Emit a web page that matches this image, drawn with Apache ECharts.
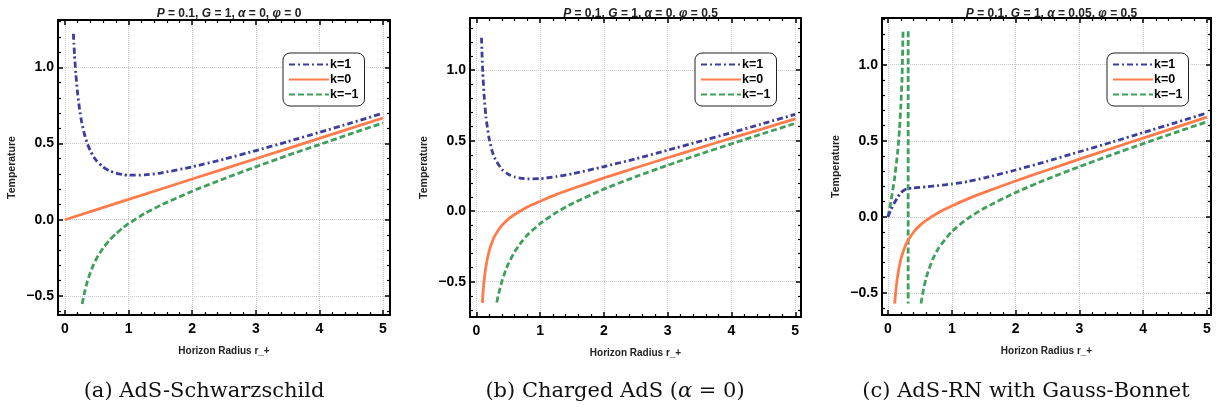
<!DOCTYPE html>
<html>
<head>
<meta charset="utf-8">
<script src="https://cdn.jsdelivr.net/npm/echarts@6/dist/echarts.min.js"></script>
<style>
html, body { margin: 0; background: #fff; }
#chart { width: 1224px; height: 412px; }
</style>
</head>
<body>
<div id="chart"></div>
<script>
// tick labels
const xMajor = [0, 1, 2, 3, 4, 5];
const yMajor = [-0.5, 0, 0.5, 1.0];
const legendNames = ['k=1', 'k=0', 'k=\u22121'];

// (a) AdS-Schwarzschild
const aR1 = [0.132, 0.14, 0.15, 0.17, 0.2, 0.23, 0.26, 0.3, 0.35, 0.4, 0.45, 0.5, 0.6, 0.7, 0.8, 0.9, 1, 1.25, 1.5, 2, 2.5, 3, 3.5, 4, 4.5, 5];
const aT1 = [1.22, 1.155, 1.08, 0.958, 0.822, 0.722, 0.646, 0.57, 0.501, 0.451, 0.413, 0.385, 0.345, 0.32, 0.306, 0.297, 0.292, 0.294, 0.306, 0.347, 0.397, 0.453, 0.512, 0.573, 0.635, 0.699];
const aR0 = [0, 1, 2, 3, 4, 5];
const aT0 = [0, 0.133, 0.267, 0.4, 0.533, 0.667];
const aRm = [0.27, 0.3, 0.35, 0.4, 0.45, 0.5, 0.6, 0.7, 0.8, 0.9, 1, 1.25, 1.5, 2, 2.5, 3, 3.5, 4, 4.5, 5];
const aTm = [-0.553, -0.49, -0.407, -0.345, -0.293, -0.251, -0.185, -0.134, -0.092, -0.057, -0.026, 0.04, 0.094, 0.187, 0.269, 0.347, 0.422, 0.493, 0.565, 0.635];

// (b) Charged AdS
const bR1 = [0.08, 0.09, 0.1, 0.12, 0.15, 0.2, 0.25, 0.3, 0.4, 0.5, 0.6, 0.8, 1, 1.25, 1.5, 2, 2.5, 3, 3.5, 4, 4.5, 5];
const bT1 = [1.23, 1.095, 0.988, 0.829, 0.67, 0.515, 0.423, 0.365, 0.297, 0.262, 0.243, 0.229, 0.231, 0.245, 0.265, 0.316, 0.372, 0.433, 0.495, 0.557, 0.622, 0.687];
const bR0 = [0.095, 0.1, 0.12, 0.15, 0.2, 0.25, 0.3, 0.4, 0.5, 0.6, 0.8, 1, 1.25, 1.5, 2, 2.5, 3, 3.5, 4, 4.5, 5];
const bT0 = [-0.65, -0.604, -0.498, -0.391, -0.282, -0.214, -0.166, -0.101, -0.056, -0.023, 0.03, 0.071, 0.118, 0.159, 0.236, 0.308, 0.379, 0.449, 0.518, 0.586, 0.655];
const bRm = [0.32, 0.35, 0.4, 0.45, 0.5, 0.6, 0.7, 0.8, 1, 1.25, 1.5, 2, 2.5, 3, 3.5, 4, 4.5, 5];
const bTm = [-0.647, -0.584, -0.499, -0.43, -0.374, -0.288, -0.222, -0.169, -0.088, -0.01, 0.053, 0.157, 0.245, 0.326, 0.404, 0.478, 0.551, 0.623];

// (c) AdS-RN with Gauss-Bonnet
const cR1 = [0, 0.02, 0.05, 0.1, 0.15, 0.2, 0.25, 0.3, 0.4, 0.5, 0.6, 0.8, 1, 1.25, 1.5, 2, 2.5, 3, 3.5, 4, 4.5, 5];
const cT1 = [0, 0.02, 0.05, 0.092, 0.128, 0.157, 0.175, 0.185, 0.19, 0.194, 0.198, 0.206, 0.216, 0.232, 0.255, 0.308, 0.366, 0.428, 0.49, 0.554, 0.618, 0.683];
const cR0 = [0.105, 0.12, 0.15, 0.2, 0.25, 0.3, 0.4, 0.5, 0.6, 0.8, 1, 1.25, 1.5, 2, 2.5, 3, 3.5, 4, 4.5, 5];
const cT0 = [-0.57, -0.498, -0.391, -0.282, -0.214, -0.166, -0.101, -0.056, -0.023, 0.03, 0.071, 0.118, 0.159, 0.236, 0.308, 0.379, 0.449, 0.518, 0.586, 0.655];
const cRm = [0, 0.05, 0.1, 0.15, 0.18, 0.2, 0.22, 0.236, null, 0.316, 0.316, null, 0.517, 0.55, 0.6, 0.7, 0.8, 1, 1.25, 1.5, 2, 2.5, 3, 3.5, 4, 4.5, 5];
const cTm = [0, 0.113, 0.244, 0.421, 0.576, 0.718, 0.913, 1.22, null, 1.22, -0.57, null, -0.57, -0.49, -0.398, -0.279, -0.201, -0.097, -0.011, 0.055, 0.16, 0.249, 0.33, 0.407, 0.481, 0.554, 0.625];

const panels = [
    { grid: { left: 58, top: 20, width: 332, height: 295 }, x: [-0.11, 5.11], y: [-0.625, 1.31],
      title: '{i|P} = 0.1, {i|G} = 1, {i|\u03b1} = 0, {i|\u03c6} = 0',
      caption: '(a) AdS-Schwarzschild', capX: 199, legX: 283,
      data: [[aR1, aT1], [aR0, aT0], [aRm, aTm]] },
    { grid: { left: 470, top: 18, width: 331, height: 299 }, x: [-0.1, 5.09], y: [-0.75, 1.37],
      title: '{i|P} = 0.1, {i|G} = 1, {i|\u03b1} = 0, {i|\u03c6} = 0.5',
      caption: '(b) Charged AdS ({a|\u03b1} = 0)', capX: 610, legX: 695,
      data: [[bR1, bT1], [bR0, bT0], [bRm, bTm]] },
    { grid: { left: 882, top: 18, width: 329, height: 297 }, x: [-0.094, 5.063], y: [-0.645, 1.307],
      title: '{i|P} = 0.1, {i|G} = 1, {i|\u03b1} = 0.05, {i|\u03c6} = 0.5',
      caption: '(c) AdS-RN with Gauss-Bonnet', capX: 1021, legX: 1107,
      data: [[cR1, cT1], [cR0, cT0], [cRm, cTm]] }
];

const colors = ['#3d3d9e', '#ff7b4a', '#3f9f5c'];
const dashes = [[6, 3, 2, 3], 'solid', [6, 3]];

function minorTicks(lo, hi, step, majors) {
    let out = [];
    for (let v = Math.ceil(lo / step) * step; v <= hi + 1e-9; v += step) {
        let r = Math.round(v * 100) / 100;
        if (!majors.some(m => Math.abs(m - r) < 1e-6)) out.push(r);
    }
    return out;
}

function fmtY(v) {
    return v.toFixed(1).replace('-', '\u2212');
}

let grid = [], xAxis = [], yAxis = [], series = [], legend = [], title = [];
const frame = { show: true, onZero: false, lineStyle: { color: '#000', width: 2 } };
const labelFont = { color: '#000', fontWeight: 'bold', fontSize: 14, fontFamily: 'Liberation Sans' };
const gridLine = { type: 'dotted', color: '#c9c9c9', width: 1 };

panels.forEach((p, i) => {
    grid.push(Object.assign({ outerBoundsMode: 'none', containLabel: false }, p.grid));
    const xMinor = minorTicks(p.x[0], p.x[1], 0.2, xMajor);
    const yMinor = minorTicks(p.y[0], p.y[1], 0.1, yMajor);
    ['bottom', 'top'].forEach(pos => {
        const main = pos === 'bottom';
        xAxis.push({
            type: 'value', gridIndex: i, position: pos, min: p.x[0], max: p.x[1],
            axisLine: frame,
            axisTick: { show: true, inside: true, length: 5, customValues: xMajor, lineStyle: { color: '#000', width: 1.5 } },
            axisLabel: { show: main, customValues: xMajor, margin: 7, ...labelFont },
            splitLine: { show: main, lineStyle: gridLine },
            name: main ? 'Horizon Radius r_+' : '', nameLocation: 'middle', nameGap: 31,
            nameTextStyle: { fontSize: 10, fontWeight: 'bold', color: '#222', fontFamily: 'Liberation Sans' }
        });
        xAxis.push({
            type: 'value', gridIndex: i, position: pos, min: p.x[0], max: p.x[1],
            axisLine: { show: false, onZero: false },
            axisTick: { show: true, inside: true, length: 3, customValues: xMinor, lineStyle: { color: '#000', width: 1.2 } },
            axisLabel: { show: false }, splitLine: { show: false }
        });
    });
    ['left', 'right'].forEach(pos => {
        const main = pos === 'left';
        yAxis.push({
            type: 'value', gridIndex: i, position: pos, min: p.y[0], max: p.y[1],
            axisLine: frame,
            axisTick: { show: true, inside: true, length: 5, customValues: yMajor, lineStyle: { color: '#000', width: 1.5 } },
            axisLabel: { show: main, customValues: yMajor, margin: 4, formatter: fmtY, ...labelFont },
            splitLine: { show: main, lineStyle: gridLine },
            name: main ? 'Temperature' : '', nameLocation: 'middle', nameGap: 40,
            nameTextStyle: { fontSize: 10.5, fontWeight: 'bold', color: '#222', fontFamily: 'Liberation Sans' }
        });
        yAxis.push({
            type: 'value', gridIndex: i, position: pos, min: p.y[0], max: p.y[1],
            axisLine: { show: false, onZero: false },
            axisTick: { show: true, inside: true, length: 3, customValues: yMinor, lineStyle: { color: '#000', width: 1.2 } },
            axisLabel: { show: false }, splitLine: { show: false }
        });
    });
    p.data.forEach((d, k) => {
        series.push({
            type: 'line', name: legendNames[k], xAxisIndex: 4 * i, yAxisIndex: 4 * i,
            data: d[0].map((r, j) => r === null ? ['-', '-'] : [r, d[1][j]]),
            symbol: 'none', showSymbol: false, smooth: 0.2, connectNulls: false, clip: true,
            lineStyle: { color: colors[k], width: 2.8, type: dashes[k] },
            itemStyle: { color: colors[k] },
            z: 3 + (2 - k)
        });
    });
    legend.push({
        data: legendNames, orient: 'vertical', left: p.legX, top: 53,
        itemWidth: 40, itemHeight: 12, itemGap: 2, padding: [5, 6, 5, 5],
        borderColor: '#222', borderWidth: 1, borderRadius: 7, backgroundColor: '#fff',
        selectedMode: false,
        itemStyle: { color: 'rgba(0,0,0,0)', borderColor: 'rgba(0,0,0,0)', borderWidth: 0, opacity: 0 },
        textStyle: { color: '#000', fontWeight: 'bold', fontSize: 12.5, fontFamily: 'Liberation Sans', padding: [0, 0, 0, -4] }
    });
    title.push({
        text: p.title, left: p.grid.left + p.grid.width / 2, textAlign: 'center', top: 3,
        textStyle: {
            fontSize: 12, fontWeight: 'bold', color: '#222', fontFamily: 'Liberation Sans',
            rich: { i: { fontSize: 12, fontWeight: 'bold', fontStyle: 'italic', color: '#222', fontFamily: 'Liberation Sans' } }
        }
    });
    title.push({
        text: p.caption, left: p.capX, textAlign: 'center', top: 376,
        textStyle: {
            fontSize: 21, fontWeight: 'normal', color: '#111', fontFamily: 'DejaVu Serif',
            rich: { a: { fontSize: 21, fontStyle: 'italic', color: '#111', fontFamily: 'DejaVu Serif' } }
        }
    });
});

let chart = echarts.init(document.getElementById('chart'));
chart.setOption({
    animation: false,
    backgroundColor: '#fff',
    title: title,
    legend: legend,
    grid: grid,
    xAxis: xAxis,
    yAxis: yAxis,
    series: series
});
</script>
</body>
</html>
